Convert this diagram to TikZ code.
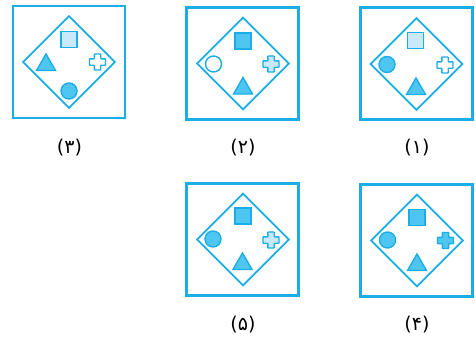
\documentclass[tikz,border=0pt]{standalone}
\usepackage{fontspec}
\usepackage{tikz}
\usetikzlibrary{
  positioning,
  shapes.geometric
}
\newfontfamily\arabicfont[Script=Arabic]{DejaVu Sans}
\definecolor{panelbg}{HTML}{FFFFFF}
\definecolor{lineCyan}{HTML}{1BAEE6}
\definecolor{fillMid}{HTML}{4FC6F2}
\definecolor{fillLight}{HTML}{C9E9FA}
\tikzset{
  panelbox/.style={
    draw=lineCyan, line width=2.3pt, fill=panelbg,
    minimum size=112pt, inner sep=0pt,
  },
  diabox/.style={
    diamond, draw=lineCyan, line width=1.9pt,
    minimum width=92.5pt, minimum height=92.5pt,
    aspect=1, inner sep=0pt,
  },
  sqmark/.style={
    draw=lineCyan, line width=1.4pt, fill=#1,
    minimum size=16pt, inner sep=0pt,
  },
  circmark/.style={
    circle, draw=lineCyan, line width=1.4pt, fill=#1,
    minimum size=16pt, inner sep=0pt,
  },
  trimark/.style={
    regular polygon, regular polygon sides=3,
    draw=lineCyan, line width=1.4pt, fill=#1,
    minimum size=22pt, inner sep=0pt,
  },
  plusmark/.pic={
    \draw[draw=lineCyan, line width=1.4pt, rounded corners=0.6pt, pic actions]
      (-3.2,-8) -- (3.2,-8) -- (3.2,-3.2) -- (8,-3.2) -- (8,3.2)
      -- (3.2,3.2) -- (3.2,8) -- (-3.2,8) -- (-3.2,3.2) -- (-8,3.2)
      -- (-8,-3.2) -- (-3.2,-3.2) -- cycle;
  },
  labeltext/.style={
    font=\arabicfont\fontsize{19}{21}\selectfont, text=black,
  },
}

\begin{document}
\begin{tikzpicture}[x=1pt, y=-1pt]
  \useasboundingbox (0,0) rectangle (476,340);

  % ─── Panel (3) ────────────────────────────────────────────────────────
  \node[panelbox] (p3) at (69,62) {};
  \node[diabox] (d3) at (69,62) {};
  \node[sqmark=fillLight] (sq3) at (69,39.5) {};
  \node[trimark=fillMid] (tri3) at (46,65) {};
  \pic[fill=white] (pl3) at (97.5,62) {plusmark};
  \node[circmark=fillMid] (ci3) at (69,91) {};
  \node[labeltext] (l3) at (69.5,148) {(۳)};

  % ─── Panel (2) ────────────────────────────────────────────────────────
  \node[panelbox] (p2) at (242.5,63.5) {};
  \node[diabox] (d2) at (243,63.5) {};
  \node[sqmark=fillMid] (sq2) at (243,41) {};
  \node[circmark=white] (ci2) at (213.5,64) {};
  \pic[fill=fillLight] (pl2) at (271,64) {plusmark};
  \node[trimark=fillMid] (tri2) at (243,88.5) {};
  \node[labeltext] (l2) at (243,148) {(۲)};

  % ─── Panel (1) ────────────────────────────────────────────────────────
  \node[panelbox] (p1) at (416.5,63.5) {};
  \node[diabox] (d1) at (416.5,64) {};
  \node[sqmark=fillLight] (sq1) at (415.5,40.5) {};
  \node[circmark=fillMid] (ci1) at (387,64.5) {};
  \pic[fill=white] (pl1) at (445,65) {plusmark};
  \node[trimark=fillMid] (tri1) at (416,89) {};
  \node[labeltext] (l1) at (417,148) {(۱)};

  % ─── Panel (5) ────────────────────────────────────────────────────────
  \node[panelbox] (p5) at (242.5,239.5) {};
  \node[diabox] (d5) at (243,239.5) {};
  \node[sqmark=fillMid] (sq5) at (243,216) {};
  \node[circmark=fillMid] (ci5) at (213,239) {};
  \pic[fill=fillLight] (pl5) at (271,240) {plusmark};
  \node[trimark=fillMid] (tri5) at (242.5,264) {};
  \node[labeltext] (l5) at (243,325) {(۵)};

  % ─── Panel (4) ────────────────────────────────────────────────────────
  \node[panelbox] (p4) at (416.5,240.5) {};
  \node[diabox] (d4) at (417,240.5) {};
  \node[sqmark=fillMid] (sq4) at (417,217.5) {};
  \node[circmark=fillMid] (ci4) at (387.5,240) {};
  \pic[fill=fillMid] (pl4) at (445.5,240.5) {plusmark};
  \node[trimark=fillMid] (tri4) at (417,265) {};
  \node[labeltext] (l4) at (417,325) {(۴)};

\end{tikzpicture}
\end{document}
